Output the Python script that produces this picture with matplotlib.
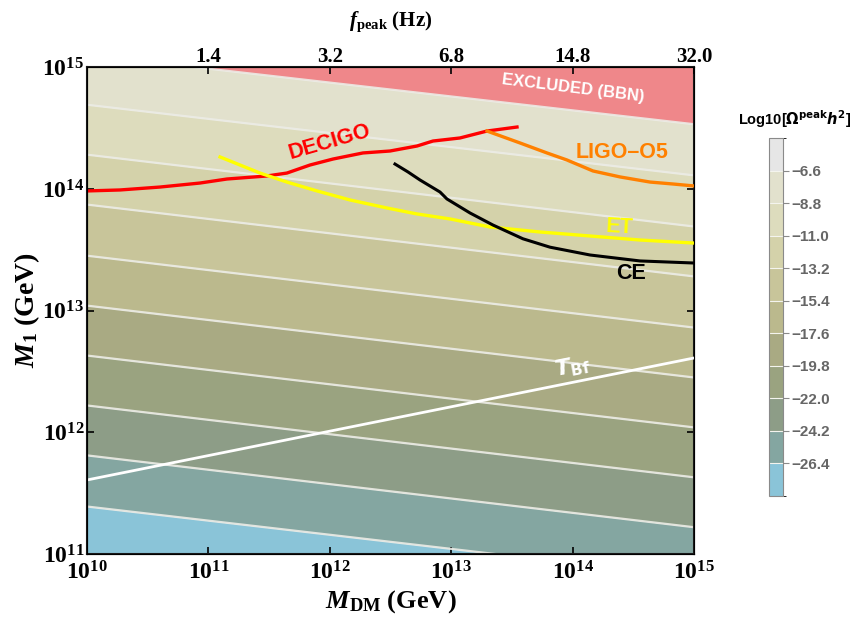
import matplotlib
matplotlib.use("Agg")
import matplotlib.pyplot as plt
import numpy as np
from matplotlib.colors import ListedColormap, BoundaryNorm
from matplotlib.colorbar import ColorbarBase

plt.rcParams['mathtext.fontset'] = 'custom'
plt.rcParams['mathtext.rm'] = 'Liberation Serif'
plt.rcParams['mathtext.it'] = 'Liberation Serif:italic'
plt.rcParams['mathtext.bf'] = 'Liberation Serif:bold'
plt.rcParams['mathtext.bfit'] = 'Liberation Serif:bold:italic'

# contour levels of log10(Omega_peak h^2), with log10(M1) where each line
# meets the left (M_DM = 1e10) and right (M_DM = 1e15) edges
levels = [-6.6, -8.8, -11.0, -13.2, -15.4, -17.6, -19.8, -22.0, -24.2, -26.4]
m1_left = [15.10, 14.69, 14.28, 13.87, 13.45, 13.04, 12.63, 12.22, 11.81, 11.39]
m1_right = [14.53, 14.11, 13.69, 13.28, 12.86, 12.45, 12.04, 11.63, 11.22, 10.81]
band_colors = ['#e6e6e6', '#e2e1cd', '#dddcbd', '#d4d2aa', '#c8c59a', '#bbb98d',
               '#a9aa83', '#9aa380', '#8d9d87', '#84a6a1', '#8ac4d8']

# detector sensitivity curves (log10 M_DM, log10 M1)
decigo_x = [10.0, 10.272, 10.601, 10.931, 11.153, 11.483, 11.647, 11.837, 12.026,
            12.273, 12.496, 12.718, 12.850, 13.072, 13.295, 13.542]
decigo_y = [13.982, 13.990, 14.014, 14.047, 14.080, 14.105, 14.129, 14.195, 14.244,
            14.294, 14.310, 14.351, 14.392, 14.417, 14.474, 14.507]
ligo_x = [13.295, 13.567, 13.789, 13.954, 14.168, 14.391, 14.638, 14.827, 15.0]
ligo_y = [14.474, 14.376, 14.294, 14.236, 14.146, 14.097, 14.055, 14.039, 14.023]
et_x = [11.096, 11.425, 11.647, 11.895, 12.166, 12.471, 12.718, 12.990, 13.320,
        13.731, 14.143, 14.555, 15.0]
et_y = [14.261, 14.129, 14.055, 13.982, 13.908, 13.842, 13.793, 13.752, 13.686,
        13.645, 13.612, 13.579, 13.554]
ce_x = [12.537, 12.644, 12.743, 12.908, 12.965, 13.155, 13.344, 13.591, 13.814,
        14.143, 14.555, 15.0]
ce_y = [14.203, 14.138, 14.072, 13.973, 13.916, 13.801, 13.702, 13.589, 13.520,
        13.456, 13.407, 13.390]
tbf_x = [10.0, 15.0]
tbf_y = [11.608, 12.610]

# top axis
fpeak_pos = [11, 12, 13, 14, 15]
fpeak_labels = ['1.4', '3.2', '6.8', '14.8', '32.0']

fig = plt.figure(figsize=(8.52, 6.17), dpi=100)
ax = fig.add_axes([87/852, 1-554/617, 607/852, 487/617])
ax.set_xscale('log')
ax.set_yscale('log')

xe = np.array([1e10, 1e15])
lo = 10.0**np.array([m1_left, m1_right]).T  # shape (n, 2)

# pink excluded region above the top contour
ax.fill_between(xe, lo[0], [1e16, 1e16], color='#ef878a', lw=0, zorder=1)
for i in range(len(levels) - 1):
    ax.fill_between(xe, lo[i + 1], lo[i], color=band_colors[i + 1], lw=0, zorder=1)
ax.fill_between(xe, [1e10, 1e10], lo[-1], color=band_colors[-1], lw=0, zorder=1)
for i in range(len(levels)):
    ax.plot(xe, lo[i], color='#ececE6', lw=1.6, alpha=0.9, zorder=2)

ax.plot(10.0**np.array(tbf_x), 10.0**np.array(tbf_y), color='white', lw=2.0, zorder=3)
ax.plot(10.0**np.array(decigo_x), 10.0**np.array(decigo_y), color='#ff0000', lw=2.4, zorder=4)
ax.plot(10.0**np.array(ligo_x), 10.0**np.array(ligo_y), color='#ff8000', lw=2.4, zorder=4)
ax.plot(10.0**np.array(et_x), 10.0**np.array(et_y), color='#ffff00', lw=2.4, zorder=4)
ax.plot(10.0**np.array(ce_x), 10.0**np.array(ce_y), color='black', lw=2.2, zorder=4)

lab = dict(family='Liberation Sans', weight='bold', ha='center', va='center', zorder=5)
ax.text(1.0e14, 6.7e14, 'EXCLUDED (BBN)', color='white', fontsize=12, rotation=-7, **lab)
ax.text(1.0e12, 2.42e14, 'DECIGO', color='#ff0000', fontsize=15.5, rotation=16, **lab)
ax.text(2.55e14, 1.97e14, 'LIGO\u2013O5', color='#ff8000', fontsize=15.5, **lab)
ax.text(2.46e14, 4.85e13, 'ET', color='#ffff00', fontsize=15.5, rotation=-3, **lab)
ax.text(3.03e14, 2.0e13, 'CE', color='black', fontsize=15.5, **lab)
ax.text(1.0e14, 3.44e12, r'$\mathbfit{T}_{\mathbf{Bf}}$', color='white', fontsize=16,
        rotation=11, ha='center', va='center', math_fontfamily='dejavusans', zorder=5)

ax.set_xlim(1e10, 1e15)
ax.set_ylim(1e11, 1e15)

def pow_label(v, pos):
    e = int(round(np.log10(v)))
    return r'$\mathbf{10}^{\mathbf{%d}}$' % e

ax.set_xticks([10.0**k for k in range(10, 16)])
ax.set_yticks([10.0**k for k in range(11, 16)])
ax.xaxis.set_major_formatter(plt.FuncFormatter(pow_label))
ax.yaxis.set_major_formatter(plt.FuncFormatter(pow_label))
ax.minorticks_off()
ax.tick_params(which='both', direction='in', length=5, width=1.2, labelsize=17,
               right=True, top=False, pad=5)
ax.tick_params(axis='y', pad=2)
for s in ax.spines.values():
    s.set_linewidth(1.5)
    s.set_color('#1a1a1a')

ax.set_xlabel(r'$\mathbfit{M}_{\mathbf{DM}}$ (GeV)', fontsize=19, family='Liberation Serif',
              weight='bold', labelpad=2)
ax.set_ylabel(r'$\mathbfit{M}_{\mathbf{1}}$ (GeV)', fontsize=20, family='Liberation Serif',
              weight='bold', labelpad=0)

top = ax.twiny()
top.set_xscale('log')
top.set_xlim(1e10, 1e15)
top.set_xticks([10.0**k for k in fpeak_pos])
top.set_xticklabels(fpeak_labels, family='Liberation Serif', weight='bold')
top.minorticks_off()
top.tick_params(direction='in', length=5, width=1.2, labelsize=15, pad=0)
top.set_xlabel(r'$\mathbfit{f}_{\mathbf{peak}}$ (Hz)', fontsize=15, family='Liberation Serif',
               weight='bold', labelpad=15)

# colorbar
cax = fig.add_axes([769/852, 1-496/617, 14/852, 358/617])
bounds = [-28.6] + levels[::-1] + [-4.4]
cmap = ListedColormap(band_colors[::-1])
norm = BoundaryNorm(bounds, cmap.N)
cb = ColorbarBase(cax, cmap=cmap, norm=norm, boundaries=bounds, ticks=levels,
                  drawedges=True)
cb.dividers.set_color('#f4f4ee')
cb.dividers.set_linewidth(0.8)
cb.outline.set_edgecolor('#8a8a8a')
cb.outline.set_linewidth(0.8)
cax.set_yticklabels(['\u2212%.1f' % abs(v) for v in levels])
cax.tick_params(length=4, width=0.8, color='#8a8a8a', labelsize=11, labelcolor='#666666', pad=2)
for t in cax.get_yticklabels():
    t.set_family('Liberation Sans')
    t.set_weight('bold')
fig.text(795/852, 1-119/617, r'Log10[$\mathbf{\Omega}^{\mathbf{peak}}\mathbfit{h}^{\mathbf{2}}$]',
         ha='center', va='center', fontsize=10.5, family='Liberation Sans', weight='bold',
         math_fontfamily='dejavusans')

fig.savefig('out.png', dpi=100)
